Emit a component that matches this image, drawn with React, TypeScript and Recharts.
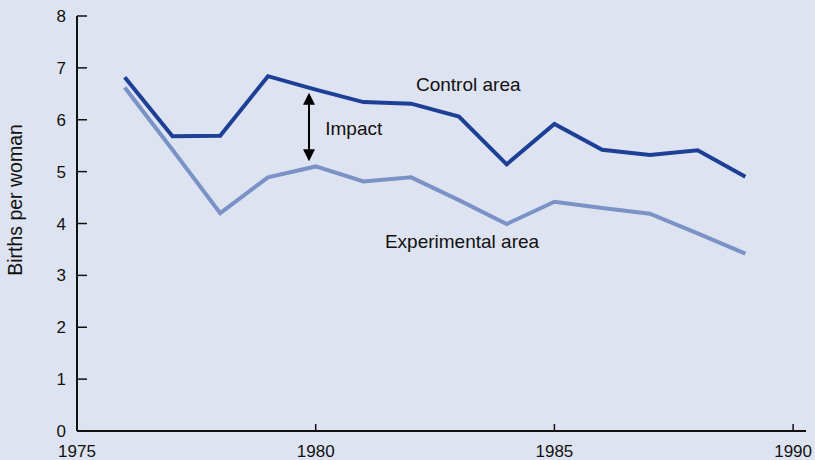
import { LineChart, Line, XAxis, YAxis, ReferenceLine, ReferenceDot } from "recharts";

const years = [1976, 1977, 1978, 1979, 1980, 1981, 1982, 1983, 1984, 1985, 1986, 1987, 1988, 1989];
const control = [6.82, 5.68, 5.69, 6.84, 6.58, 6.34, 6.31, 6.06, 5.14, 5.92, 5.42, 5.32, 5.41, 4.9];
const experimental = [6.62, 5.42, 4.2, 4.89, 5.1, 4.81, 4.89, 4.45, 3.99, 4.42, 4.3, 4.19, 3.81, 3.42];
const xTicks = [1975, 1980, 1985, 1990];
const yTicks = [0, 1, 2, 3, 4, 5, 6, 7, 8];

const data = years.map((year, i) => ({ year, control: control[i], experimental: experimental[i] }));

const BG = "#dde3f0";
const DARK = "#1d3f96";
const LIGHT = "#7b92c7";
const FONT = "'Liberation Sans', Arial, sans-serif";

// double-headed arrow for the "Impact" gap
const Arrow = (p: any) => {
  const { x1, y1, x2, y2 } = p;
  const top = Math.min(y1, y2);
  const bot = Math.max(y1, y2);
  const x = x1;
  const hw = 6;
  const hl = 12;
  return (
    <g>
      <line x1={x} x2={x} y1={top + hl - 2} y2={bot - hl + 2} stroke="#000" strokeWidth={2} />
      <polygon points={`${x},${top} ${x - hw},${top + hl} ${x + hw},${top + hl}`} fill="#000" />
      <polygon points={`${x},${bot} ${x - hw},${bot - hl} ${x + hw},${bot - hl}`} fill="#000" />
    </g>
  );
};

const lbl = (value: string) => ({ value, position: "right" as const, offset: 0, fill: "#111", fontSize: 19, fontFamily: FONT });

export default function App() {
  return (
    <div style={{ position: "absolute", left: 0, top: 0, width: 815, height: 460, background: BG, fontFamily: FONT }}>
      <LineChart width={815} height={460} data={data} margin={{ top: 16, right: 9, bottom: 0, left: 0 }}>
        <XAxis
          type="number"
          dataKey="year"
          domain={[1975, 1990.27]}
          ticks={xTicks}
          allowDataOverflow
          height={29}
          tickSize={-7}
          tickMargin={21}
          axisLine={{ stroke: "#111", strokeWidth: 2 }}
          tickLine={{ stroke: "#111", strokeWidth: 1.5 }}
          tick={{ fill: "#111", fontSize: 17, fontFamily: FONT }}
        />
        <YAxis
          type="number"
          domain={[0, 8]}
          ticks={yTicks}
          width={77}
          tickSize={-10}
          tickMargin={21}
          axisLine={{ stroke: "#111", strokeWidth: 2 }}
          tickLine={{ stroke: "#111", strokeWidth: 1.5 }}
          tick={{ fill: "#111", fontSize: 17, fontFamily: FONT }}
          label={{
            content: () => (
              <text
                x={15}
                y={200}
                transform="rotate(-90, 15, 200)"
                textAnchor="middle"
                dominantBaseline="central"
                fill="#111"
                fontSize={19.5}
                fontFamily={FONT}
              >
                Births per woman
              </text>
            ),
          }}
        />
        <Line type="linear" dataKey="experimental" stroke={LIGHT} strokeWidth={4} dot={false} isAnimationActive={false} />
        <Line type="linear" dataKey="control" stroke={DARK} strokeWidth={4} dot={false} isAnimationActive={false} />
        <ReferenceLine
          segment={[{ x: 1979.86, y: 5.2 }, { x: 1979.86, y: 6.52 }]}
          shape={Arrow}
        />
        <ReferenceDot x={1982.1} y={6.69} r={0} fill="none" stroke="none" label={lbl("Control area")} />
        <ReferenceDot x={1980.2} y={5.84} r={0} fill="none" stroke="none" label={lbl("Impact")} />
        <ReferenceDot x={1981.45} y={3.66} r={0} fill="none" stroke="none" label={lbl("Experimental area")} />
      </LineChart>
    </div>
  );
}
